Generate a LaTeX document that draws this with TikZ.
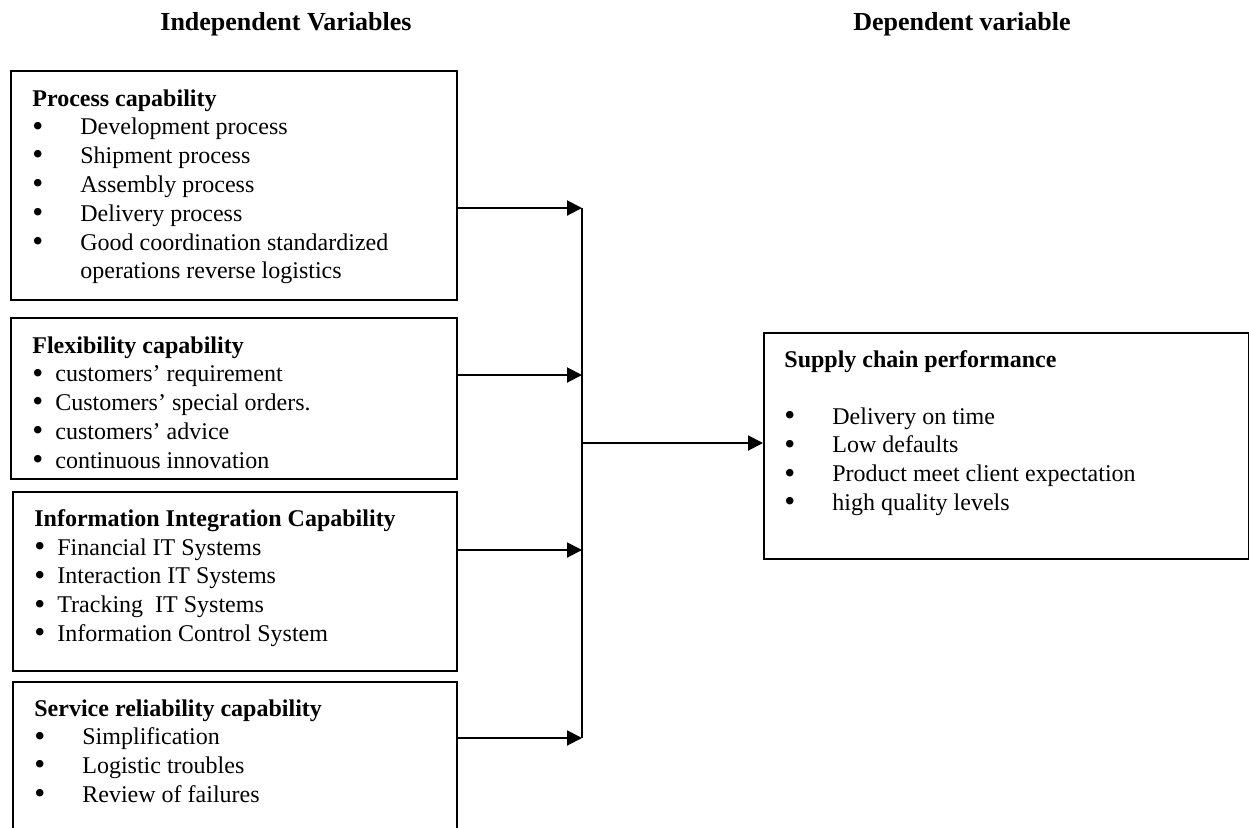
\documentclass[tikz,border=0pt]{standalone}
\usepackage{fontspec}
\setmainfont{Liberation Serif}
\usepackage{tikz}
\usetikzlibrary{positioning, arrows.meta}

\newcommand{\bigbullet}{\raisebox{-0.12ex}{\scalebox{1.3}{\textbullet}}}
\newcommand{\wideitem}[1]{\makebox[24pt][l]{\bigbullet}#1}
\newcommand{\slimitem}[1]{\makebox[11.5pt][l]{\bigbullet}#1}

\begin{document}
\begin{tikzpicture}[
    x=0.5pt, y=-0.5pt,
    header/.style={font=\fontsize{13}{15}\selectfont\bfseries, inner sep=0pt},
    varbox/.style={rectangle, draw, line width=0.9pt, anchor=north west,
                   inner sep=0pt, minimum width=223pt},
    listtext/.style={align=left, inner sep=0pt,
                     font=\fontsize{12}{14.4}\selectfont},
    link/.style={line width=1pt, -{Triangle[length=7.5pt, width=7.5pt]}},
  ]
    \useasboundingbox (0,0) rectangle (1249,827);
    \clip (0,0) rectangle (1249,827);

    % column headings
    \node[header] (indep) at (286,24) {Independent Variables};
    \node[header] (dep) at (962,24) {Dependent variable};

    % independent variables
    \node[varbox, minimum height=114.5pt] (proc) at (10,70) {};
    \node[listtext, below right=9.5pt and 11pt of proc.north west] (proctxt) {
      \textbf{Process capability}\\
      \wideitem{Development process}\\
      \wideitem{Shipment process}\\
      \wideitem{Assembly process}\\
      \wideitem{Delivery process}\\
      \wideitem{Good coordination standardized}\\
      \hspace*{24pt}operations reverse logistics
    };

    \node[varbox, minimum height=80.5pt] (flex) at (10,317) {};
    \node[listtext, below right=9.5pt and 11pt of flex.north west] (flextxt) {
      \textbf{Flexibility capability}\\
      \slimitem{customers' requirement}\\
      \slimitem{Customers' special orders.}\\
      \slimitem{customers' advice}\\
      \slimitem{continuous innovation}
    };

    \node[varbox, minimum width=222pt, minimum height=89.5pt] (info) at (12,491) {};
    \node[listtext, below right=9pt and 11pt of info.north west] (infotxt) {
      \textbf{Information Integration Capability}\\
      \slimitem{Financial IT Systems}\\
      \slimitem{Interaction IT Systems}\\
      \slimitem{Tracking\ \ IT Systems}\\
      \slimitem{Information Control System}
    };

    \node[varbox, minimum width=222pt, minimum height=92pt] (serv) at (12,681) {};
    \node[listtext, below right=9pt and 11pt of serv.north west] (servtxt) {
      \textbf{Service reliability capability}\\
      \wideitem{Simplification}\\
      \wideitem{Logistic troubles}\\
      \wideitem{Review of failures}
    };

    % dependent variable
    \node[varbox, minimum width=242.5pt, minimum height=113pt] (perf) at (763,332) {};
    \node[listtext, below right=9pt and 10.5pt of perf.north west] (perftxt) {
      \textbf{Supply chain performance}\\[14pt]
      \wideitem{Delivery on time}\\
      \wideitem{Low defaults}\\
      \wideitem{Product meet client expectation}\\
      \wideitem{high quality levels}
    };

    % connectors
    \coordinate (j1) at (582,208);
    \coordinate (j2) at (582,375);
    \coordinate (j3) at (582,550);
    \coordinate (j4) at (582,738);
    \coordinate (jc) at (582,443);

    \draw[link] (proc.east |- j1) -- (j1);
    \draw[link] (flex.east |- j2) -- (j2);
    \draw[link] (info.east |- j3) -- (j3);
    \draw[link] (serv.east |- j4) -- (j4);
    \draw[line width=0.8pt] (j1) -- (j4);
    \draw[link] (jc) -- (perf.west |- jc);
  \end{tikzpicture}
\end{document}
